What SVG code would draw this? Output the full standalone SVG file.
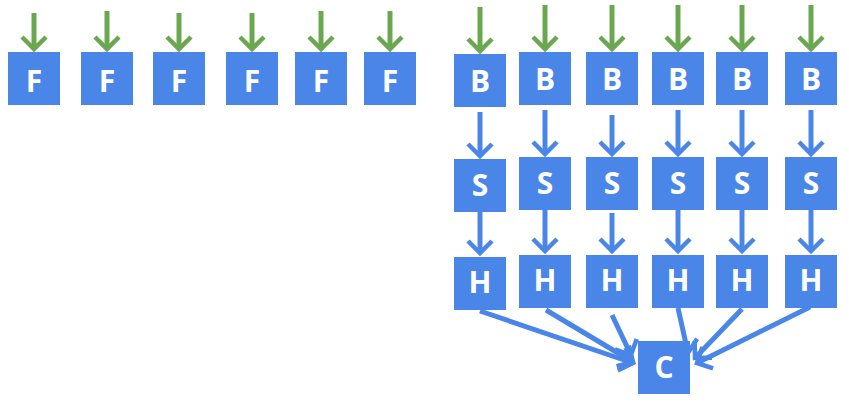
<svg xmlns="http://www.w3.org/2000/svg" width="849" height="402" viewBox="0 0 849 402">
<style>
.box{fill:#4A86E8}
.lbl{fill:#ffffff;font-family:"Open Sans","Noto Sans","Liberation Sans",sans-serif;font-weight:bold;font-size:30px;text-anchor:middle}
.g{stroke:#6AA84F;stroke-width:5;fill:none;marker-end:url(#ag)}
.b{stroke:#4A86E8;stroke-width:5;fill:none;marker-end:url(#ab)}
</style>
<defs>
<marker id="ag" markerUnits="userSpaceOnUse" viewBox="-20 -20 40 40" markerWidth="40" markerHeight="40" refX="0" refY="0" orient="auto">
<path d="M-12,-12 L0,0 L-12,12" fill="none" stroke="#6AA84F" stroke-width="4.5"/>
</marker>
<marker id="ab" markerUnits="userSpaceOnUse" viewBox="-20 -20 40 40" markerWidth="40" markerHeight="40" refX="0" refY="0" orient="auto">
<path d="M-12,-12 L0,0 L-12,12" fill="none" stroke="#4A86E8" stroke-width="4.5"/>
</marker>
</defs>
<g id="connectors">
<line class="g" x1="34" y1="13" x2="34" y2="49"/>
<line class="g" x1="107" y1="11" x2="107" y2="49"/>
<line class="g" x1="179" y1="13" x2="179" y2="49"/>
<line class="g" x1="252" y1="13" x2="252" y2="49"/>
<line class="g" x1="321" y1="11" x2="321" y2="49"/>
<line class="g" x1="390" y1="11" x2="390" y2="49"/>
<line class="g" x1="480" y1="7" x2="480" y2="51"/>
<line class="g" x1="545" y1="5" x2="545" y2="49"/>
<line class="g" x1="612" y1="5" x2="612" y2="49"/>
<line class="g" x1="678" y1="5" x2="678" y2="49"/>
<line class="g" x1="742" y1="5" x2="742" y2="49"/>
<line class="g" x1="811" y1="5" x2="811" y2="49"/>
<line class="b" x1="480" y1="112" x2="480" y2="156"/>
<line class="b" x1="545" y1="110" x2="545" y2="154"/>
<line class="b" x1="612" y1="115" x2="612" y2="154"/>
<line class="b" x1="678" y1="110" x2="678" y2="154"/>
<line class="b" x1="742" y1="110" x2="742" y2="154"/>
<line class="b" x1="811" y1="110" x2="811" y2="154"/>
<line class="b" x1="480" y1="212" x2="480" y2="253"/>
<line class="b" x1="545" y1="210" x2="545" y2="251"/>
<line class="b" x1="612" y1="213" x2="612" y2="251"/>
<line class="b" x1="678" y1="210" x2="678" y2="251"/>
<line class="b" x1="742" y1="210" x2="742" y2="251"/>
<line class="b" x1="811" y1="210" x2="811" y2="251"/>
<line class="b" x1="480" y1="311" x2="633" y2="363"/>
<line class="b" x1="546" y1="310" x2="633" y2="362"/>
<line class="b" x1="612" y1="315" x2="631" y2="355"/>
<line class="b" x1="678" y1="308" x2="688" y2="353"/>
<line class="b" x1="742" y1="309" x2="695" y2="358"/>
<line class="b" x1="810" y1="307" x2="697" y2="363"/>
</g>
<g id="F1"><rect class="box" x="8" y="52" width="52" height="53"/><text class="lbl" x="34" y="92">F</text></g>
<g id="F2"><rect class="box" x="81" y="52" width="52" height="53"/><text class="lbl" x="107" y="92">F</text></g>
<g id="F3"><rect class="box" x="153" y="52" width="52" height="53"/><text class="lbl" x="179" y="92">F</text></g>
<g id="F4"><rect class="box" x="226" y="52" width="52" height="53"/><text class="lbl" x="252" y="92">F</text></g>
<g id="F5"><rect class="box" x="295" y="52" width="52" height="53"/><text class="lbl" x="321" y="92">F</text></g>
<g id="F6"><rect class="box" x="364" y="52" width="52" height="53"/><text class="lbl" x="390" y="92">F</text></g>
<g id="B1"><rect class="box" x="454" y="54" width="52" height="53"/><text class="lbl" x="480" y="92">B</text></g>
<g id="B2"><rect class="box" x="519" y="52" width="52" height="53"/><text class="lbl" x="545" y="90">B</text></g>
<g id="B3"><rect class="box" x="586" y="52" width="52" height="53"/><text class="lbl" x="612" y="90">B</text></g>
<g id="B4"><rect class="box" x="652" y="52" width="52" height="53"/><text class="lbl" x="678" y="90">B</text></g>
<g id="B5"><rect class="box" x="716" y="52" width="52" height="53"/><text class="lbl" x="742" y="90">B</text></g>
<g id="B6"><rect class="box" x="785" y="52" width="52" height="53"/><text class="lbl" x="811" y="90">B</text></g>
<g id="S1"><rect class="box" x="454" y="159" width="52" height="53"/><text class="lbl" x="480" y="196">S</text></g>
<g id="S2"><rect class="box" x="519" y="157" width="52" height="53"/><text class="lbl" x="545" y="194">S</text></g>
<g id="S3"><rect class="box" x="586" y="157" width="52" height="53"/><text class="lbl" x="612" y="194">S</text></g>
<g id="S4"><rect class="box" x="652" y="157" width="52" height="53"/><text class="lbl" x="678" y="194">S</text></g>
<g id="S5"><rect class="box" x="716" y="157" width="52" height="53"/><text class="lbl" x="742" y="194">S</text></g>
<g id="S6"><rect class="box" x="785" y="157" width="52" height="53"/><text class="lbl" x="811" y="194">S</text></g>
<g id="H1"><rect class="box" x="454" y="257" width="52" height="53"/><text class="lbl" x="480" y="293">H</text></g>
<g id="H2"><rect class="box" x="519" y="255" width="52" height="53"/><text class="lbl" x="545" y="291">H</text></g>
<g id="H3"><rect class="box" x="586" y="255" width="52" height="53"/><text class="lbl" x="612" y="291">H</text></g>
<g id="H4"><rect class="box" x="652" y="255" width="52" height="53"/><text class="lbl" x="678" y="291">H</text></g>
<g id="H5"><rect class="box" x="716" y="255" width="52" height="53"/><text class="lbl" x="742" y="291">H</text></g>
<g id="H6"><rect class="box" x="785" y="255" width="52" height="53"/><text class="lbl" x="811" y="291">H</text></g>
<g id="C"><rect class="box" x="638" y="341" width="52" height="53"/><text class="lbl" x="664" y="378">C</text></g>
</svg>
